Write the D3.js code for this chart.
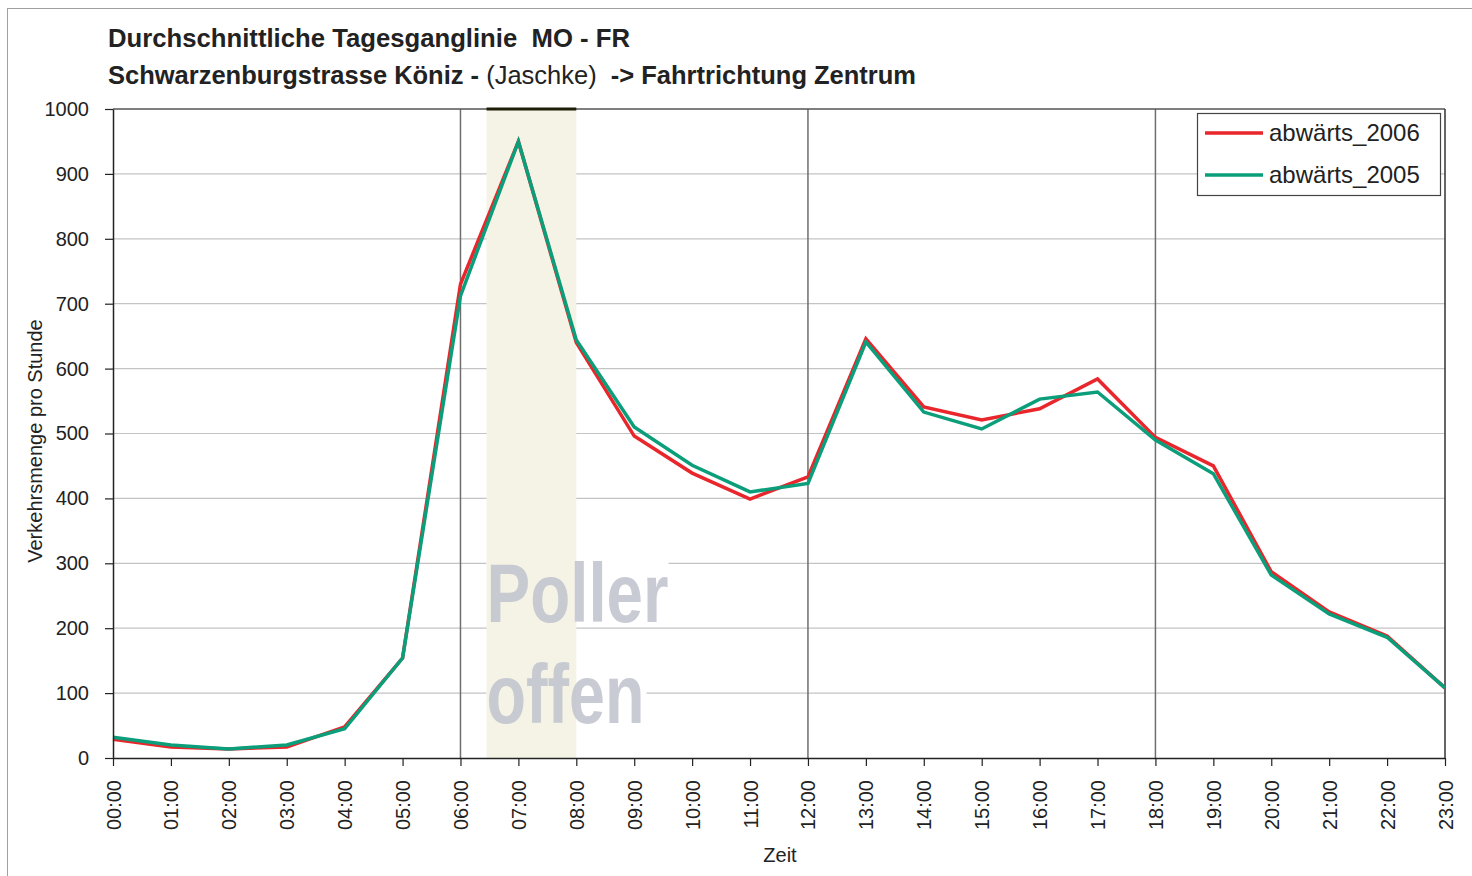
<!DOCTYPE html>
<html>
<head>
<meta charset="utf-8">
<script src="https://cdn.jsdelivr.net/npm/d3@7"></script>
<style>
  body { margin: 0; background: #fff; }
  text { font-family: "Liberation Sans", Arial, sans-serif; fill: #222; }
</style>
</head>
<body>
<div id="chart"></div>
<script>
let canvasWidth = 1472;
let canvasHeight = 876;

// data
let hours = ["00:00", "01:00", "02:00", "03:00", "04:00", "05:00", "06:00", "07:00",
    "08:00", "09:00", "10:00", "11:00", "12:00", "13:00", "14:00", "15:00",
    "16:00", "17:00", "18:00", "19:00", "20:00", "21:00", "22:00", "23:00"];
let values2006 = [29, 17, 14, 17, 48, 154, 730, 950, 640, 496, 439, 399, 433, 646,
    541, 521, 538, 584, 494, 450, 287, 225, 188, 108];
let values2005 = [32, 20, 14, 20, 45, 154, 712, 950, 644, 510, 451, 410, 423, 641,
    533, 507, 553, 564, 490, 438, 282, 222, 186, 108];
let yTicks = [0, 100, 200, 300, 400, 500, 600, 700, 800, 900, 1000];
let majorHours = ["06:00", "12:00", "18:00"];
let series = [
    { name: "abwärts_2006", values: values2006, color: "#e8262b" },
    { name: "abwärts_2005", values: values2005, color: "#0b9e7a" }
];

let plotLeft = 113, plotRight = 1445, plotTop = 109, plotBottom = 758;

let svg = d3.select("div#chart")
    .append("svg")
    .attr("width", canvasWidth)
    .attr("height", canvasHeight);

// outer frame
svg.append("rect")
    .attr("x", 7.5).attr("y", 8.5)
    .attr("width", canvasWidth).attr("height", canvasHeight)
    .attr("fill", "none")
    .attr("stroke", "#a0a0a0");

let xScale = d3.scalePoint().domain(hours).range([plotLeft, plotRight]);
let yScale = d3.scaleLinear().domain([0, 1000]).range([plotBottom, plotTop]);

// horizontal grid
svg.append("g")
    .selectAll("line")
    .data(yTicks.slice(1, -1))
    .join("line")
    .attr("x1", plotLeft).attr("x2", plotRight)
    .attr("y1", d => yScale(d)).attr("y2", d => yScale(d))
    .attr("stroke", "#c4c4c4")
    .attr("stroke-width", 1.2);

// white boxes behind the "Poller offen" label
let band = { from: 6.45, to: 8.0 };
let hx = h => plotLeft + (plotRight - plotLeft) * h / 23;
svg.append("rect")
    .attr("x", hx(band.from)).attr("y", 553)
    .attr("width", 182).attr("height", 74).attr("fill", "#fff");
svg.append("rect")
    .attr("x", hx(band.from)).attr("y", 650)
    .attr("width", 160).attr("height", 86).attr("fill", "#fff");

// shaded band
svg.append("rect")
    .attr("x", hx(band.from)).attr("y", plotTop)
    .attr("width", hx(band.to) - hx(band.from))
    .attr("height", plotBottom - plotTop)
    .attr("fill", "#f5f3e6");

// label
svg.append("text")
    .attr("x", hx(band.from)).attr("y", 622)
    .attr("textLength", 182).attr("lengthAdjust", "spacingAndGlyphs")
    .style("font-size", "84px").style("font-weight", "bold")
    .style("fill", "#bfc3cd").style("opacity", 0.85)
    .text("Poller");
svg.append("text")
    .attr("x", hx(band.from)).attr("y", 723)
    .attr("textLength", 158).attr("lengthAdjust", "spacingAndGlyphs")
    .style("font-size", "84px").style("font-weight", "bold")
    .style("fill", "#bfc3cd").style("opacity", 0.85)
    .text("offen");

// vertical lines at 06, 12, 18
svg.append("g")
    .selectAll("line")
    .data(majorHours)
    .join("line")
    .attr("x1", d => xScale(d)).attr("x2", d => xScale(d))
    .attr("y1", plotTop).attr("y2", plotBottom)
    .attr("stroke", "#6e6e6e")
    .attr("stroke-width", 1.5);

// plot frame top and right
svg.append("line")
    .attr("x1", plotLeft).attr("x2", plotRight).attr("y1", plotTop).attr("y2", plotTop)
    .attr("stroke", "#555").attr("stroke-width", 1.5);
svg.append("line")
    .attr("x1", plotRight).attr("x2", plotRight).attr("y1", plotTop).attr("y2", plotBottom)
    .attr("stroke", "#333").attr("stroke-width", 1.5);
svg.append("line")
    .attr("x1", hx(band.from)).attr("x2", hx(band.to))
    .attr("y1", plotTop).attr("y2", plotTop)
    .attr("stroke", "#1e1e08").attr("stroke-width", 3);

// lines
let line = d3.line()
    .x((d, i) => xScale(hours[i]))
    .y(d => yScale(d));
svg.append("g")
    .selectAll("path")
    .data(series)
    .join("path")
    .attr("fill", "none")
    .attr("stroke", d => d.color)
    .attr("stroke-width", 3.5)
    .attr("stroke-linejoin", "miter")
    .attr("d", d => line(d.values));

// y axis
let yAxis = svg.append("g")
    .attr("transform", "translate(" + plotLeft + ",0)")
    .call(d3.axisLeft(yScale).tickValues(yTicks).tickFormat(d3.format("d"))
        .tickSize(8).tickSizeOuter(0).tickPadding(16));
yAxis.select(".domain").attr("stroke", "#222").attr("stroke-width", 1.5);
yAxis.selectAll(".tick line").attr("stroke", "#222").attr("stroke-width", 1.2);
yAxis.selectAll(".tick text")
    .style("font-size", "20px")
    .style("font-family", "Liberation Sans, Arial, sans-serif")
    .attr("fill", "#222");

// x axis
let xAxis = svg.append("g")
    .attr("transform", "translate(0," + plotBottom + ")")
    .call(d3.axisBottom(xScale).tickSize(8).tickSizeOuter(0));
xAxis.select(".domain").attr("stroke", "#222").attr("stroke-width", 1.5);
xAxis.selectAll(".tick line").attr("stroke", "#222").attr("stroke-width", 1.2);
xAxis.selectAll(".tick text")
    .attr("transform", "rotate(-90)")
    .attr("x", -22).attr("y", 0).attr("dy", "0.35em")
    .attr("text-anchor", "end")
    .style("font-size", "20px")
    .style("font-family", "Liberation Sans, Arial, sans-serif")
    .attr("fill", "#222");

// axis labels
svg.append("text")
    .attr("x", 780).attr("y", 862)
    .attr("text-anchor", "middle")
    .style("font-size", "20px")
    .text("Zeit");
svg.append("text")
    .attr("transform", "translate(42,441) rotate(-90)")
    .attr("text-anchor", "middle")
    .style("font-size", "20px")
    .text("Verkehrsmenge pro Stunde");

// title
svg.append("text")
    .attr("x", 108).attr("y", 47)
    .attr("textLength", 522).attr("lengthAdjust", "spacingAndGlyphs")
    .style("font-size", "25px").style("font-weight", "bold")
    .style("white-space", "pre")
    .text("Durchschnittliche Tagesganglinie  MO - FR");
let sub = svg.append("text")
    .attr("x", 108).attr("y", 84)
    .attr("textLength", 808).attr("lengthAdjust", "spacingAndGlyphs")
    .style("font-size", "25px")
    .style("white-space", "pre");
sub.append("tspan").style("font-weight", "bold").text("Schwarzenburgstrasse Köniz - ");
sub.append("tspan").text("(Jaschke)");
sub.append("tspan").style("font-weight", "bold").text("  -> Fahrtrichtung Zentrum");

// legend
let legend = svg.append("g");
legend.append("rect")
    .attr("x", 1197.5).attr("y", 113.5)
    .attr("width", 243).attr("height", 82)
    .attr("fill", "#fff")
    .attr("stroke", "#444").attr("stroke-width", 1.2);
let items = legend.selectAll("g")
    .data(series)
    .join("g")
    .attr("transform", (d, i) => "translate(1205," + (133 + i * 42) + ")");
items.append("line")
    .attr("x1", 0).attr("x2", 58)
    .attr("stroke", d => d.color)
    .attr("stroke-width", 3.5);
items.append("text")
    .attr("x", 64).attr("dy", "0.35em")
    .style("font-size", "24px")
    .text(d => d.name);
</script>
</body>
</html>
